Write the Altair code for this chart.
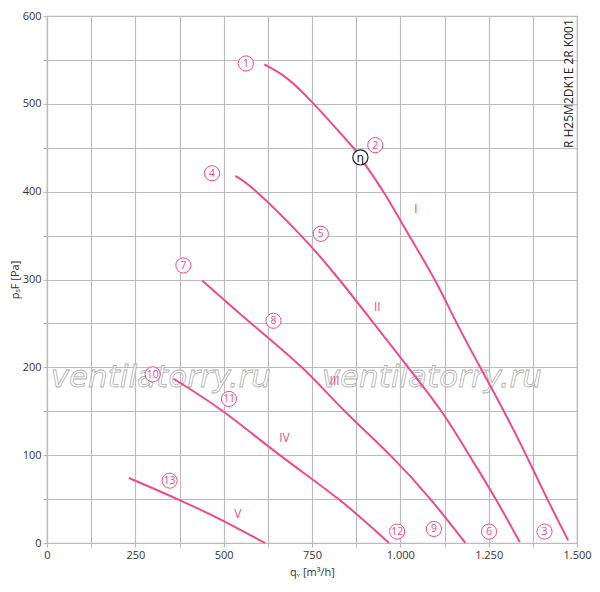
import altair as alt
import pandas as pd

PINK = "#ee4a90"
GRID = "#bcbcbd"
FONT = "Open Sans"

# ---- curve data (q in m3/h, p in Pa) ----
q_I = [615, 673, 755, 867, 887, 952, 1025, 1097, 1160, 1226, 1293, 1356, 1416, 1475]
p_I = [545, 531, 500, 450, 439, 400, 350, 300, 250, 200, 150, 100, 50, 3]
q_II = [533, 593, 719, 827, 925, 1022, 1116, 1195, 1270, 1338]
p_II = [418, 400, 350, 300, 250, 200, 150, 100, 50, 1]
q_III = [439, 578, 721, 843, 971, 1085, 1184]
p_III = [299, 250, 200, 150, 100, 50, 0]
q_IV = [358, 498, 659, 825, 968]
p_IV = [187, 150, 100, 50, 0]
q_V = [232, 369, 500, 617]
p_V = [74, 50, 25, 0]

# ---- circled point labels ----
pt_labels = ["1", "2", "3", "4", "5", "6", "7", "8", "9", "10", "11", "12", "13"]
pt_q = [563, 929, 1408, 467, 775, 1251, 386, 641, 1095, 299, 515, 991, 347]
pt_p = [546, 453, 13, 421, 352, 13, 316, 253, 16, 192, 164, 13, 71]

# ---- roman curve labels ----
rom_labels = ["I", "II", "III", "IV", "V"]
rom_q = [1044, 935, 814, 672, 540]
rom_p = [380, 269, 185, 120, 33]

# ---- efficiency marker ----
eta_q = [887]
eta_p = [439]

# ---- watermark ----
wm_text = ["ventilatorry.ru", "ventilatorry.ru"]
wm_q = [322, 1089]
wm_p = [188, 188]

# ---- model code ----
code_text = ["R H25M2DK1E 2R K001"]
code_q = [1478]
code_p = [523]

x_ticks = list(range(0, 1501, 125))
y_ticks = list(range(0, 601, 50))

rows = []
for name, qs, ps in [("I", q_I, p_I), ("II", q_II, p_II), ("III", q_III, p_III),
                     ("IV", q_IV, p_IV), ("V", q_V, p_V)]:
    for i, (q, p) in enumerate(zip(qs, ps)):
        rows.append({"curve": name, "q": q, "p": p, "order": i})
curves = pd.DataFrame(rows)
pts = pd.DataFrame({"label": pt_labels, "q": pt_q, "p": pt_p})
roms = pd.DataFrame({"label": rom_labels, "q": rom_q, "p": rom_p})
eta = pd.DataFrame({"label": ["η"], "q": eta_q, "p": eta_p})
wm = pd.DataFrame({"label": wm_text, "q": wm_q, "p": wm_p})
code = pd.DataFrame({"label": code_text, "q": code_q, "p": code_p})

xscale = alt.Scale(domain=[0, 1500], nice=False, zero=False)
yscale = alt.Scale(domain=[0, 600], nice=False, zero=False)

xaxis = alt.Axis(
    values=x_ticks,
    labelExpr="datum.value % 250 == 0 ? replace(format(datum.value, ','), ',', '.') : ''",
    labelFlush=False,
    title="qᵥ [m³/h]",
    titlePadding=6,
)
yaxis = alt.Axis(
    values=y_ticks,
    labelExpr="datum.value % 100 == 0 ? format(datum.value, 'd') : ''",
    labelFlush=False,
    title="pₛF [Pa]",
    titlePadding=2,
)

X = alt.X("q:Q", scale=xscale, axis=xaxis)
Y = alt.Y("p:Q", scale=yscale, axis=yaxis)
Xn = alt.X("q:Q", scale=xscale)
Yn = alt.Y("p:Q", scale=yscale)

base_axes = alt.Chart(curves).mark_line(opacity=0).encode(x=X, y=Y, detail="curve:N")

watermark = alt.Chart(wm).mark_text(
    font="DejaVu Sans", fontStyle="italic", fontSize=31, fill="white", fillOpacity=0.6,
    stroke="#b0b0b0", strokeWidth=0.8, align="center", baseline="middle"
).encode(x=Xn, y=Yn, text="label:N")

lines = alt.Chart(curves).mark_line(color=PINK, strokeWidth=2, interpolate="natural").encode(
    x=Xn, y=Yn, detail="curve:N", order="order:Q"
)

circles = alt.Chart(pts).mark_point(
    shape="circle", size=230, filled=True, fill="white", stroke=PINK, strokeWidth=1, opacity=1
).encode(x=Xn, y=Yn)
circ_text = alt.Chart(pts).mark_text(
    font=FONT, fontSize=10.5, color=PINK, align="center", baseline="middle", dy=0.5
).encode(x=Xn, y=Yn, text="label:N")

rom_text = alt.Chart(roms).mark_text(
    font=FONT, fontSize=12, color=PINK, align="center", baseline="middle"
).encode(x=Xn, y=Yn, text="label:N")

eta_circle = alt.Chart(eta).mark_point(
    shape="circle", size=230, filled=True, fill="white", stroke="#222222", strokeWidth=1.2, opacity=1
).encode(x=Xn, y=Yn)
eta_text = alt.Chart(eta).mark_text(
    font="DejaVu Sans", fontSize=12, color="#111111", align="center", baseline="middle", dy=1
).encode(x=Xn, y=Yn, text="label:N")

code_mark = alt.Chart(code).mark_text(
    font=FONT, fontSize=12, color="#222222", angle=270, align="center", baseline="middle"
).encode(x=Xn, y=Yn, text="label:N")

chart = alt.layer(
    base_axes, watermark, lines, circles, circ_text, rom_text, eta_circle, eta_text, code_mark
).properties(
    width=530, height=527,
    autosize=alt.AutoSizeParams(type="none"),
    padding={"left": 39, "top": 8, "right": 15, "bottom": 41},
).configure_axis(
    grid=True, gridColor=GRID, gridWidth=1.2,
    domainColor=GRID, domainWidth=1.2, tickColor=GRID, tickSize=4, tickWidth=1.2,
    labelFont=FONT, labelFontSize=11, labelColor="#333333",
    titleFont=FONT, titleFontSize=11, titleColor="#333333", titleFontWeight="normal",
).configure_view(stroke=GRID, strokeWidth=1.2)

chart.save("out.html", embed_options={"renderer": "svg", "actions": False})
